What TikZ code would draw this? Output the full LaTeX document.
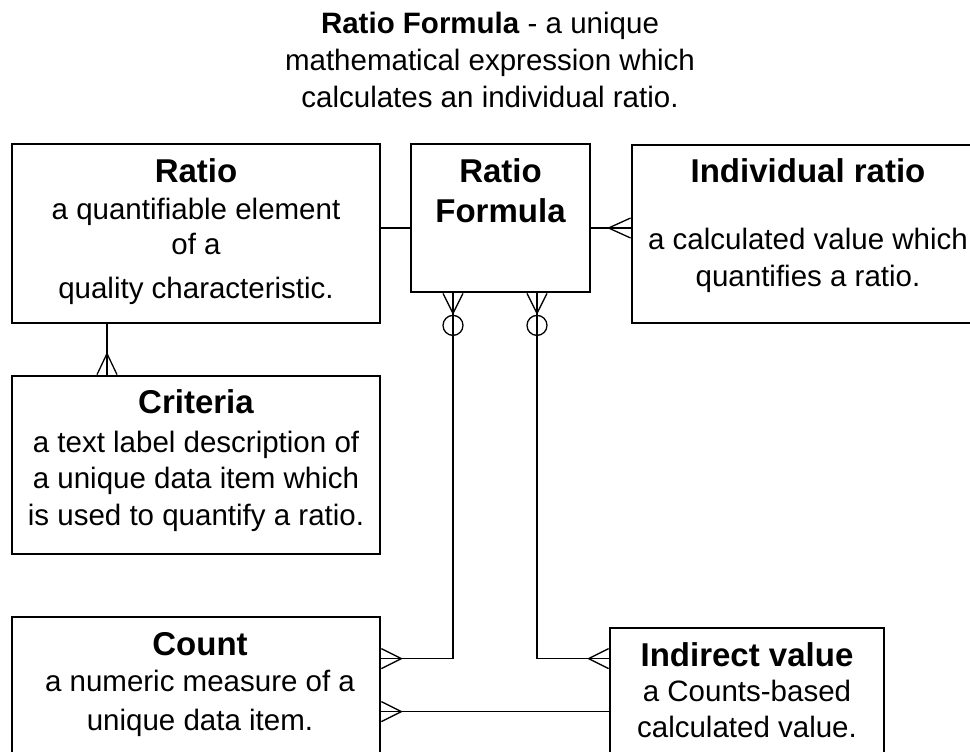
\documentclass[tikz,border=0pt]{standalone}
\usepackage{fontspec}
\setmainfont{Liberation Sans}
\usetikzlibrary{positioning}
\newcommand{\enttitle}[1]{{\fontsize{33}{37}\selectfont\bfseries #1}}

\begin{document}
\begin{tikzpicture}[x=1pt,y=-1pt,
    entity/.style={draw, line width=2.8pt, inner sep=0pt},
    etext/.style={align=center, inner sep=0pt, font=\fontsize{29.5}{37}\selectfont},
    link/.style={line width=1.3pt}]
    \useasboundingbox (0,0) rectangle (970,752);

    % Title
    \node[etext, anchor=north] (title) at (490,12) {\textbf{Ratio Formula} - a unique\\ mathematical expression which\\ calculates an individual ratio.};

    % Entities
    \node[entity, minimum width=368pt, minimum height=179pt] (ratio) at (196,233.5) {};
    \node[entity, minimum width=179pt, minimum height=148pt] (formula) at (500.5,218) {};
    \node[entity, minimum width=352pt, minimum height=178pt] (indiv) at (808,234) {};
    \node[entity, minimum width=368pt, minimum height=178pt] (criteria) at (196,465) {};
    \node[entity, minimum width=368pt, minimum height=153pt] (count) at (196,693.5) {};
    \node[entity, minimum width=274pt, minimum height=142pt] (indirect) at (747,699) {};

    % Entity texts
    \node[etext, below=15.5pt of ratio.north] (ratiotext) {\enttitle{Ratio}\\ a quantifiable element\\[-2pt] of a\\[7pt] quality characteristic.};
    \node[etext, below=15.5pt of formula.north] (formulatext) {\enttitle{Ratio}\\[3pt] \enttitle{Formula}};
    \node[etext, below=14.5pt of indiv.north] (indivtext) {\enttitle{Individual ratio}\\[30pt] a calculated value which\\ quantifies a ratio.};
    \node[etext, below=14.5pt of criteria.north] (criteriatext) {\enttitle{Criteria}\\[2pt] a text label description of\\[-1pt] a unique data item which\\ is used to quantify a ratio.};
    \node[etext, below=16.5pt of count.north, xshift=4pt] (counttext) {\enttitle{Count}\\[-1pt] a numeric measure of a\\[2pt] unique data item.};
    \node[etext, below=15.5pt of indirect.north] (indirecttext) {\enttitle{Indirect value}\\[-2pt] a Counts-based\\[-1pt] calculated value.};

    % Ratio -- Ratio Formula
    \coordinate (rf) at ([yshift=-10pt]formula.west);
    \draw[link] (rf) -- (rf -| ratio.east);

    % Ratio Formula -- Individual ratio
    \coordinate (fi) at ([yshift=-10pt]formula.east);
    \draw[link] (fi) -- (fi -| indiv.west);
    \draw[link] (fi -| indiv.west) ++(0,-10) -- ++(-22,10) -- ++(22,10);

    % Ratio -- Criteria
    \coordinate (rc) at ([xshift=-89pt]ratio.south);
    \draw[link] (rc) -- (rc |- criteria.north);
    \draw[link] (rc |- criteria.north) ++(-10,0) -- ++(10,-21) -- ++(10,21);

    % Ratio Formula -- Count
    \coordinate (fa) at ([xshift=-47.5pt]formula.south);
    \coordinate (ca) at ([yshift=-43pt]count.north east);
    \draw[link] (fa) ++(-10,0) -- ++(10,20) -- ++(10,-20);
    \draw[link] ([yshift=-32pt]fa) circle[radius=10pt];
    \draw[link] (fa) -- (fa |- ca) -- (ca);
    \draw[link] (ca) ++(0,-10) -- ++(20,10) -- ++(-20,10);

    % Ratio Formula -- Indirect value
    \coordinate (fb) at ([xshift=36.5pt]formula.south);
    \coordinate (ia) at (indirect.west |- ca);
    \draw[link] (fb) ++(-10,0) -- ++(10,20) -- ++(10,-20);
    \draw[link] ([yshift=-32pt]fb) circle[radius=10pt];
    \draw[link] (fb) -- (fb |- ia) -- (ia);
    \draw[link] (ia) ++(0,-10) -- ++(-20,10) -- ++(20,10);

    % Count -- Indirect value
    \coordinate (ci) at ([yshift=-96pt]count.north east);
    \draw[link] (ci) -- (ci -| indirect.west);
    \draw[link] (ci) ++(0,-10) -- ++(20,10) -- ++(-20,10);

\end{tikzpicture}
\end{document}
